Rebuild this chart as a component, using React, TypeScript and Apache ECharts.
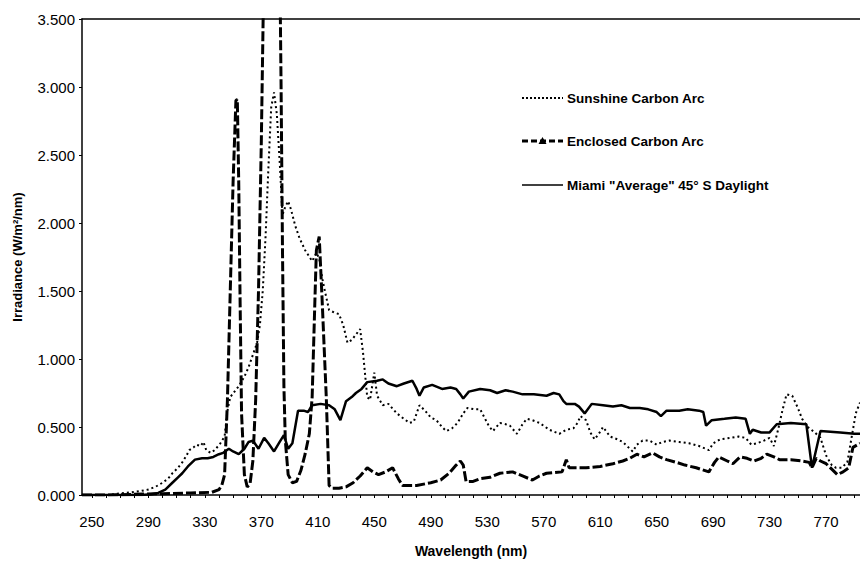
import React, { useEffect, useRef } from "react";
import * as echarts from "echarts";

const FONT = "'Liberation Sans', Arial, Helvetica, sans-serif";

const xLabelValues = [250, 290, 330, 370, 410, 450, 490, 530, 570, 610, 650, 690, 730, 770];
const xMinorTicks = [250, 260, 270, 280, 290, 300, 310, 320, 330, 340, 350, 360, 370, 380, 390, 400, 410, 420, 430, 440, 450, 460, 470, 480, 490, 500, 510, 520, 530, 540, 550, 560, 570, 580, 590, 600, 610, 620, 630, 640, 650, 660, 670, 680, 690, 700, 710, 720, 730, 740, 750, 760, 770, 780, 790];

const seriesNames = ["Sunshine Carbon Arc", "Enclosed Carbon Arc", 'Miami "Average" 45° S Daylight'];

// [wavelength nm, irradiance W/m²/nm]
const sunshine = [
  [243, 0], [262, 0], [268, 0.01], [278, 0.02], [285, 0.03], [290, 0.04], [295, 0.06], [300, 0.09], [304, 0.12], [307, 0.16],
  [311, 0.2], [314, 0.24], [317, 0.29], [319, 0.33], [322, 0.35], [324, 0.37], [327, 0.36], [329, 0.39], [331, 0.33], [334, 0.31],
  [337, 0.33], [341, 0.38], [344, 0.43], [346, 0.62], [348, 0.72], [351, 0.76], [354, 0.8], [358, 0.87], [361, 0.94], [364, 1.03],
  [367, 1.12], [369, 1.25], [371, 1.5], [373, 1.9], [375, 2.4], [377, 2.85], [379, 2.96], [381, 2.8], [383, 2.45], [385, 2.06],
  [387, 2.12], [389, 2.16], [391, 2.1], [394, 1.98], [397, 1.89], [401, 1.8], [406, 1.72], [409, 1.78], [411, 1.74], [413, 1.6],
  [415, 1.5], [418, 1.36], [422, 1.34], [425, 1.33], [428, 1.25], [431, 1.12], [434, 1.14], [437, 1.18], [440, 1.22], [442, 1.05],
  [445, 0.72], [447, 0.7], [450, 0.9], [452, 0.73], [456, 0.66], [460, 0.67], [466, 0.6], [471, 0.56], [475, 0.53], [478, 0.54],
  [482, 0.66], [486, 0.62], [490, 0.57], [494, 0.55], [498, 0.5], [501, 0.47], [505, 0.49], [509, 0.53], [513, 0.6], [516, 0.64],
  [521, 0.63], [525, 0.63], [528, 0.57], [531, 0.51], [534, 0.47], [539, 0.53], [543, 0.52], [546, 0.51], [551, 0.45], [555, 0.52],
  [558, 0.56], [562, 0.55], [567, 0.53], [574, 0.48], [581, 0.45], [586, 0.48], [591, 0.49], [594, 0.53], [596, 0.58], [600, 0.55],
  [603, 0.46], [606, 0.41], [609, 0.45], [612, 0.5], [617, 0.43], [622, 0.41], [626, 0.39], [630, 0.35], [633, 0.32], [636, 0.37],
  [640, 0.4], [645, 0.4], [650, 0.37], [654, 0.39], [659, 0.4], [666, 0.39], [673, 0.38], [680, 0.36], [687, 0.33], [690, 0.38],
  [695, 0.41], [702, 0.42], [708, 0.43], [713, 0.42], [717, 0.37], [721, 0.38], [726, 0.4], [730, 0.42], [733, 0.36], [736, 0.48],
  [739, 0.62], [742, 0.74], [746, 0.73], [750, 0.64], [753, 0.56], [757, 0.5], [762, 0.46], [766, 0.42], [770, 0.29], [774, 0.22],
  [777, 0.2], [781, 0.2], [785, 0.24], [788, 0.42], [791, 0.6], [794, 0.68],
];

const enclosed = [
  [243, 0], [260, 0], [280, 0.005], [300, 0.01], [320, 0.015], [335, 0.02], [340, 0.04], [342, 0.07], [344, 0.15], [346, 0.7],
  [348, 1.5], [350, 2.3], [352, 2.9], [353, 2.91], [354, 2.3], [355, 1.4], [356, 0.6], [358, 0.15], [360, 0.06], [362, 0.08],
  [364, 0.25], [366, 0.7], [368, 1.5], [370, 2.6], [372, 4.0], [383, 4.0], [384, 3.0], [385, 1.8], [386, 0.8], [387, 0.4],
  [389, 0.15], [392, 0.09], [395, 0.1], [398, 0.18], [401, 0.3], [404, 0.45], [406, 0.72], [408, 1.45], [409, 1.8], [411, 1.9],
  [413, 1.45], [416, 0.72], [418, 0.07], [420, 0.05], [425, 0.05], [430, 0.06], [435, 0.09], [440, 0.14], [445, 0.2], [449, 0.17],
  [453, 0.15], [458, 0.17], [463, 0.2], [467, 0.12], [470, 0.07], [480, 0.07], [490, 0.09], [497, 0.11], [503, 0.16], [508, 0.22],
  [511, 0.25], [513, 0.22], [515, 0.1], [520, 0.1], [525, 0.12], [532, 0.13], [539, 0.16], [548, 0.17], [555, 0.14], [562, 0.11],
  [567, 0.14], [572, 0.16], [583, 0.17], [586, 0.26], [588, 0.2], [600, 0.2], [610, 0.21], [619, 0.23], [626, 0.25], [631, 0.27],
  [636, 0.3], [641, 0.28], [647, 0.31], [652, 0.28], [657, 0.26], [664, 0.24], [670, 0.22], [678, 0.2], [687, 0.17], [691, 0.24],
  [694, 0.28], [700, 0.25], [704, 0.23], [709, 0.28], [714, 0.27], [719, 0.25], [724, 0.27], [728, 0.3], [733, 0.28], [737, 0.26],
  [745, 0.26], [753, 0.25], [758, 0.24], [760, 0.2], [763, 0.27], [766, 0.25], [770, 0.23], [774, 0.19], [778, 0.15], [782, 0.17],
  [786, 0.2], [789, 0.35], [794, 0.38],
];

const miami = [
  [243, 0], [285, 0], [292, 0.005], [297, 0.015], [302, 0.04], [307, 0.09], [311, 0.13], [314, 0.16], [318, 0.21], [323, 0.26],
  [328, 0.27], [332, 0.27], [336, 0.28], [340, 0.3], [343, 0.31], [347, 0.34], [350, 0.32], [354, 0.3], [358, 0.34], [361, 0.39],
  [364, 0.4], [368, 0.34], [372, 0.42], [375, 0.38], [379, 0.32], [383, 0.39], [386, 0.44], [389, 0.34], [392, 0.38], [394, 0.5],
  [396, 0.62], [400, 0.62], [403, 0.61], [406, 0.66], [412, 0.67], [418, 0.66], [422, 0.63], [426, 0.55], [430, 0.69], [434, 0.72],
  [437, 0.75], [441, 0.78], [445, 0.83], [452, 0.84], [456, 0.85], [460, 0.82], [466, 0.8], [471, 0.82], [477, 0.84], [480, 0.78],
  [482, 0.73], [485, 0.79], [491, 0.81], [498, 0.78], [504, 0.79], [508, 0.78], [511, 0.74], [513, 0.71], [517, 0.76], [525, 0.78],
  [532, 0.77], [537, 0.75], [543, 0.77], [548, 0.76], [555, 0.74], [563, 0.74], [572, 0.73], [577, 0.75], [581, 0.74], [584, 0.69],
  [586, 0.67], [592, 0.67], [595, 0.65], [599, 0.6], [604, 0.67], [612, 0.66], [619, 0.65], [625, 0.66], [631, 0.64], [638, 0.64],
  [644, 0.63], [650, 0.61], [653, 0.58], [657, 0.62], [666, 0.62], [672, 0.63], [680, 0.62], [683, 0.61], [685, 0.51], [689, 0.55],
  [698, 0.56], [706, 0.57], [713, 0.56], [716, 0.45], [718, 0.48], [724, 0.46], [730, 0.46], [735, 0.52], [745, 0.53], [756, 0.52],
  [760, 0.2], [766, 0.47], [780, 0.46], [790, 0.45], [794, 0.45],
];

export default function App() {
  const ref = useRef<HTMLDivElement>(null);
  useEffect(() => {
    const chart = echarts.init(ref.current!, null, { renderer: "svg" });
    const legendX1 = 522;
    const legendX2 = 563;
    const legendText = 567;
    const rows = [98, 141, 185];
    chart.setOption({
      animation: false,
      backgroundColor: "#fff",
      textStyle: { fontFamily: FONT, color: "#000" },
      grid: { left: 82, right: 0, top: 19, bottom: 64 },
      xAxis: [
        {
          type: "value",
          min: 243,
          max: 794,
          name: "Wavelength (nm)",
          nameLocation: "middle",
          nameGap: 49,
          nameTextStyle: { fontFamily: FONT, fontWeight: "bold", fontSize: 14, color: "#000" },
          axisLine: { show: true, onZero: false, lineStyle: { color: "#000", width: 1.5 } },
          axisTick: { show: true, customValues: xMinorTicks, length: 3, lineStyle: { color: "#000" } },
          axisLabel: { customValues: xLabelValues, fontSize: 15, color: "#000", margin: 19, fontFamily: FONT },
          splitLine: { show: false },
        },
        {
          type: "value",
          position: "top",
          min: 243,
          max: 794,
          axisLine: { show: true, onZero: false, lineStyle: { color: "#000", width: 1.5 } },
          axisTick: { show: false },
          axisLabel: { show: false },
          splitLine: { show: false },
        },
      ],
      yAxis: {
        type: "value",
        min: 0,
        max: 3.5,
        interval: 0.5,
        name: "Irradiance (W/m²/nm)",
        nameLocation: "middle",
        nameGap: 58,
        nameTextStyle: { fontFamily: FONT, fontWeight: "bold", fontSize: 13, color: "#000" },
        axisLine: { show: true, lineStyle: { color: "#000", width: 1.5 } },
        axisTick: { show: true, length: 3, lineStyle: { color: "#000" } },
        axisLabel: {
          fontSize: 15,
          color: "#000",
          margin: 7,
          fontFamily: FONT,
          formatter: (v: number) => v.toFixed(3),
        },
        splitLine: { show: false },
      },
      series: [
        {
          name: seriesNames[0],
          type: "line",
          data: sunshine,
          showSymbol: false,
          symbol: "none",
          lineStyle: { color: "#000", width: 2, type: [2, 3] },
          z: 3,
        },
        {
          name: seriesNames[1],
          type: "line",
          data: enclosed,
          showSymbol: false,
          symbol: "none",
          lineStyle: { color: "#000", width: 3, type: [10, 3] },
          z: 4,
        },
        {
          name: seriesNames[2],
          type: "line",
          data: miami,
          showSymbol: false,
          symbol: "none",
          lineStyle: { color: "#000", width: 2.5 },
          z: 5,
        },
      ],
      graphic: [
        {
          type: "line",
          shape: { x1: legendX1, y1: rows[0], x2: legendX2, y2: rows[0] },
          style: { stroke: "#000", lineWidth: 2, lineDash: [2, 2] },
        },
        {
          type: "line",
          shape: { x1: legendX1, y1: rows[1], x2: legendX2, y2: rows[1] },
          style: { stroke: "#000", lineWidth: 3, lineDash: [6, 3] },
        },
        {
          type: "polygon",
          shape: { points: [[542.5, rows[1] - 4], [538.5, rows[1] + 3], [546.5, rows[1] + 3]] },
          style: { fill: "#000" },
        },
        {
          type: "line",
          shape: { x1: legendX1, y1: rows[2], x2: legendX2, y2: rows[2] },
          style: { stroke: "#000", lineWidth: 1.5 },
        },
        ...seriesNames.map((n, i) => ({
          type: "text",
          x: legendText,
          y: rows[i],
          style: {
            text: n,
            fill: "#000",
            fontFamily: FONT,
            fontWeight: "bold",
            fontSize: 13.5,
            verticalAlign: "middle",
            align: "left",
          },
        })),
      ],
    });
    return () => chart.dispose();
  }, []);
  return (
    <div
      ref={ref}
      style={{ position: "fixed", left: 0, top: 0, width: 860, height: 563, background: "#fff" }}
    />
  );
}
